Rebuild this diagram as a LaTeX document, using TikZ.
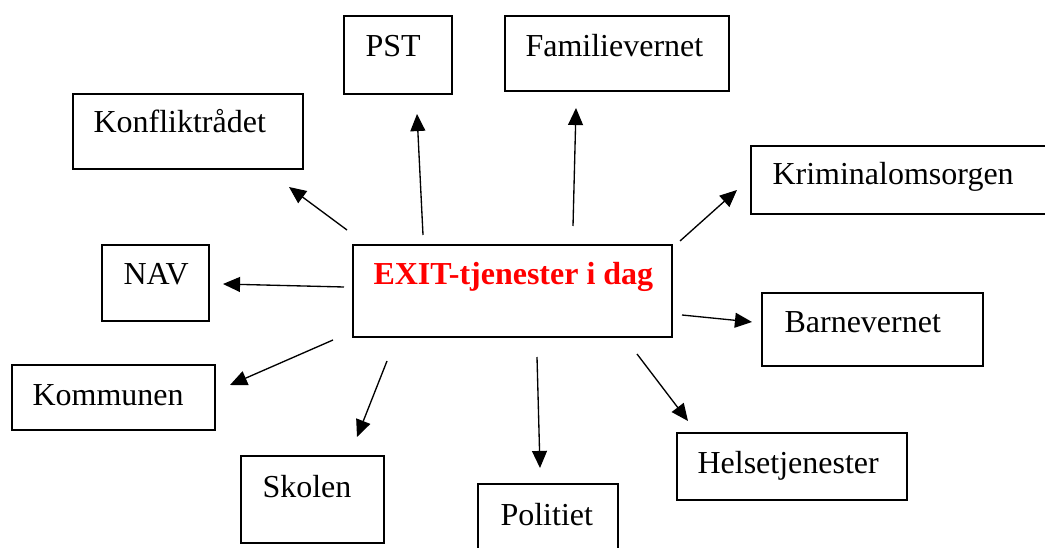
\documentclass[tikz,border=0pt]{standalone}
\usepackage{fontspec}
\setmainfont{Liberation Serif}
\usetikzlibrary{arrows.meta}
\definecolor{exitred}{RGB}{255,0,0}
\tikzset{
  box/.style={draw=black, line width=0.7pt, rectangle, inner sep=0pt, fill=none},
  lbl/.style={anchor=base west, inner sep=0pt, font=\fontsize{12pt}{14pt}\selectfont},
  arr/.style={line width=0.5pt, -{Triangle[length=6.4pt,width=5.6pt]}}
}
\begin{document}
\begin{tikzpicture}[x=0.375pt,y=-0.375pt]
\useasboundingbox (0,0) rectangle (1045,548);
\fill[white] (0,0) rectangle (1045,548);
% boxes
\node[box, minimum width=108*0.375pt, minimum height=78*0.375pt] (pst) at (398,55) {};
\node[box, minimum width=224*0.375pt, minimum height=75*0.375pt] (fam) at (617,53.5) {};
\node[box, minimum width=230*0.375pt, minimum height=75*0.375pt] (kon) at (188,131.5) {};
\node[box, minimum width=309*0.375pt, minimum height=68*0.375pt] (kri) at (905.5,180) {};
\node[box, minimum width=107*0.375pt, minimum height=76*0.375pt] (nav) at (155.5,283) {};
\node[box, minimum width=319*0.375pt, minimum height=92*0.375pt] (exit) at (512.5,291) {};
\node[box, minimum width=221*0.375pt, minimum height=73*0.375pt] (bar) at (872.5,329.5) {};
\node[box, minimum width=203*0.375pt, minimum height=65*0.375pt] (kom) at (113.5,397.5) {};
\node[box, minimum width=230*0.375pt, minimum height=67*0.375pt] (hel) at (792,466.5) {};
\node[box, minimum width=143*0.375pt, minimum height=87*0.375pt] (sko) at (312.5,499.5) {};
\node[box, minimum width=140*0.375pt, minimum height=86*0.375pt] (pol) at (548,527) {};
% labels
\node[lbl] (pstT) at (365,57) {PST};
\node[lbl] (famT) at (525,57) {Familievernet};
\node[lbl] (konT) at (93,133) {Konfliktrådet};
\node[lbl] (kriT) at (772,185) {Kriminalomsorgen};
\node[lbl] (navT) at (123,285) {NAV};
\node[lbl, text=exitred, font=\fontsize{12pt}{14pt}\selectfont\bfseries] (exitT) at (373,285) {EXIT-tjenester i dag};
\node[lbl] (barT) at (784,333) {Barnevernet};
\node[lbl] (komT) at (32,405) {Kommunen};
\node[lbl] (helT) at (697,473) {Helsetjenester};
\node[lbl] (skoT) at (262,497) {Skolen};
\node[lbl] (polT) at (500,525) {Politiet};
% arrow end points
\coordinate (pstS) at (423,235);  \coordinate (pstE) at (417,114);
\coordinate (famS) at (573,226);  \coordinate (famE) at (576,108);
\coordinate (konS) at (347,230);  \coordinate (konE) at (289,187);
\coordinate (kriS) at (680,241);  \coordinate (kriE) at (737,190);
\coordinate (navS) at (344,287);  \coordinate (navE) at (223,284);
\coordinate (barS) at (682,315);  \coordinate (barE) at (752,322);
\coordinate (komS) at (333,340);  \coordinate (komE) at (230,385);
\coordinate (helS) at (637,354);  \coordinate (helE) at (688,421);
\coordinate (skoS) at (387,361);  \coordinate (skoE) at (357,437);
\coordinate (polS) at (537,357);  \coordinate (polE) at (540,468);
% arrows
\draw[arr] (pstS) -- (pstE);
\draw[arr] (famS) -- (famE);
\draw[arr] (konS) -- (konE);
\draw[arr] (kriS) -- (kriE);
\draw[arr] (navS) -- (navE);
\draw[arr] (barS) -- (barE);
\draw[arr] (komS) -- (komE);
\draw[arr] (helS) -- (helE);
\draw[arr] (skoS) -- (skoE);
\draw[arr] (polS) -- (polE);
\end{tikzpicture}
\end{document}
